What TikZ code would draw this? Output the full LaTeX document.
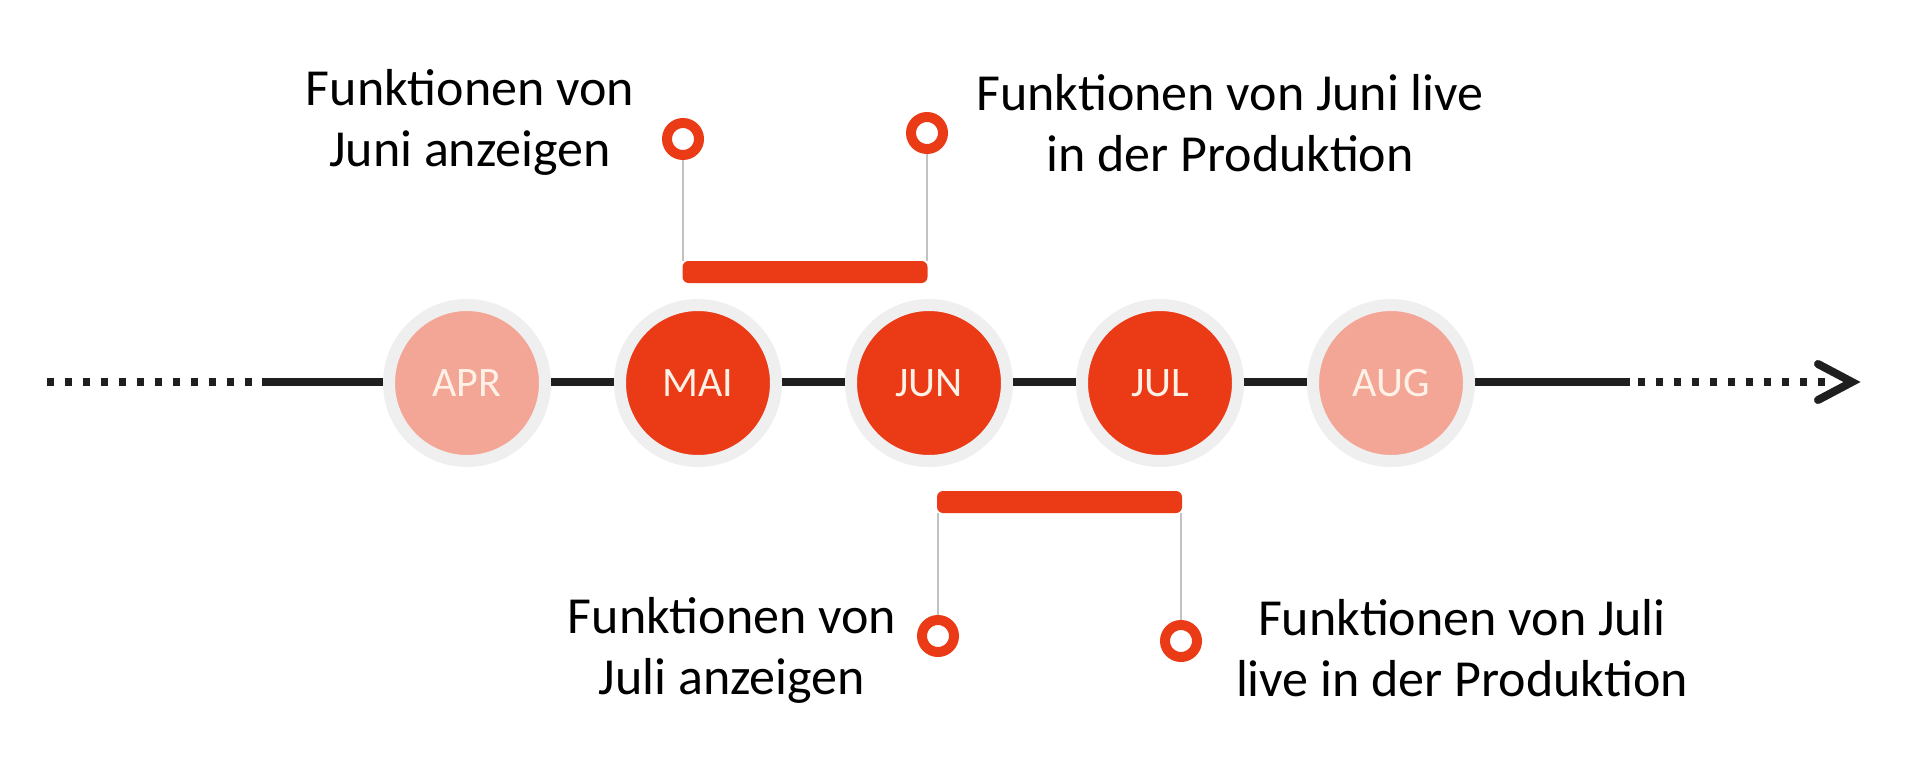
\documentclass[tikz,border=0pt]{standalone}
\usepackage{fontspec}
\setmainfont{Carlito}
\usepackage{tikz}
\pgfdeclarelayer{bg}
\pgfsetlayers{bg,main}
\definecolor{hotred}{HTML}{EB3A16}
\definecolor{palered}{HTML}{F3A696}
\definecolor{ringgray}{HTML}{EFEFEF}
\definecolor{stemgray}{HTML}{C2C2C2}
\definecolor{labelcream}{HTML}{FFF1E6}
\tikzset{
    month/.style={circle, inner sep=0pt, minimum size=156pt, draw=ringgray, line width=12pt,
        text=labelcream, font=\fontsize{42}{50}\selectfont},
    monthpale/.style={month, fill=palered},
    monthhot/.style={month, fill=hotred},
    ringdot/.style={circle, inner sep=0pt, minimum size=32pt, draw=hotred, line width=10pt, fill=white},
    phasebar/.style={rectangle, inner sep=0pt, minimum width=245pt, minimum height=22pt,
        rounded corners=6pt, fill=hotred},
    captiontext/.style={align=center, inner sep=0pt, font=\fontsize{52}{61}\selectfont},
    axisline/.style={line width=8pt, black!88},
    axisdots/.style={axisline, dash pattern=on 7pt off 11pt},
    stem/.style={line width=2.5pt, stemgray}
}

\begin{document}
\begin{tikzpicture}[x=1pt, y=-1pt]
        \useasboundingbox (0,0) rectangle (1907,781);
        \node (apr) [monthpale] at (467,383) {APR};
        \node (mai) [monthhot] at (698,383) {MAI};
        \node (jun) [monthhot] at (929,383) {JUN};
        \node (jul) [monthhot] at (1160,383) {JUL};
        \node (aug) [monthpale] at (1391,383) {AUG};
        \coordinate (axL) at (47,382);
        \coordinate (axA) at (256,382);
        \coordinate (axB) at (262,382);
        \coordinate (axC) at (1630,382);
        \coordinate (axD) at (1638,382);
        \coordinate (axE) at (1832,382);
        \coordinate (tip) at (1852,382);
        \coordinate (tipU) at (1818,364);
        \coordinate (tipD) at (1818,400);
        \node (junBar) [phasebar] at (805,272) {};
        \node (julBar) [phasebar] at (1059.5,502) {};
        \node (junShow) [ringdot] at (683,139) {};
        \node (junLive) [ringdot] at (927,133) {};
        \node (julShow) [ringdot] at (938,636) {};
        \node (julLive) [ringdot] at (1181,641) {};
        \node (junShowText) [captiontext] at (470,122) {Funktionen von\\Juni anzeigen};
        \node (junLiveText) [captiontext] at (1230,123) {Funktionen von Juni live\\in der Produktion};
        \node (julShowText) [captiontext] at (732,650) {Funktionen von\\Juli anzeigen};
        \node (julLiveText) [captiontext] at (1462,648) {Funktionen von Juli\\live in der Produktion};
        \begin{pgfonlayer}{bg}
                \draw [axisdots] (axL) -- (axA);
                \draw [axisline] (axB) -- (axC);
                \draw [axisdots] (axD) -- (axE);
                \draw [axisline, line cap=round, line join=miter] (tipU) -- (tip) -- (tipD);
                \draw [stem] (junShow) -- (junShow |- junBar.north);
                \draw [stem] (junLive) -- (junLive |- junBar.north);
                \draw [stem] (julShow) -- (julShow |- julBar.south);
                \draw [stem] (julLive) -- (julLive |- julBar.south);
        \end{pgfonlayer}
\end{tikzpicture}
\end{document}
